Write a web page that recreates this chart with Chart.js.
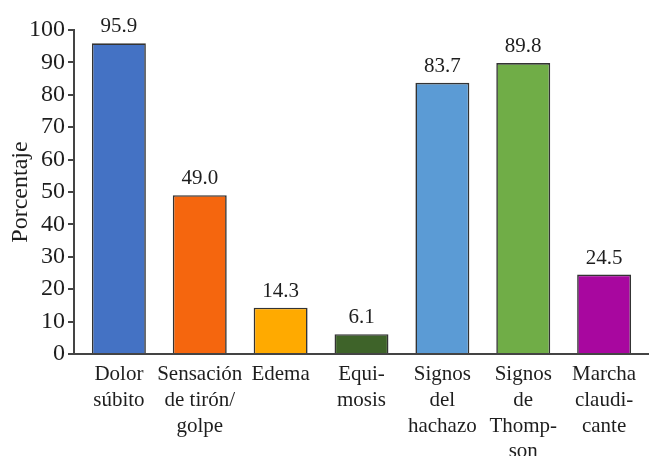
<!DOCTYPE html>
<html lang="es">
<head>
<meta charset="utf-8">
<title>Porcentaje por signo clínico</title>
<script src="https://cdn.jsdelivr.net/npm/chart.js@4.4.1/dist/chart.umd.min.js"></script>
<style>
  html, body { margin: 0; padding: 0; background: #ffffff; }
  #wrap { width: 649px; height: 456px; }
</style>
</head>
<body>
<div id="wrap"><canvas id="c" width="649" height="456"></canvas></div>
<script>
// Categorías (etiquetas de varias líneas en el eje X)
const categories = [
  ['Dolor', 'súbito'],
  ['Sensación', 'de tirón/', 'golpe'],
  ['Edema'],
  ['Equi-', 'mosis'],
  ['Signos', 'del', 'hachazo'],
  ['Signos', 'de', 'Thomp-', 'son'],
  ['Marcha', 'claudi-', 'cante']
];

// Porcentaje de pacientes con cada signo
const percentages = [95.9, 49.0, 14.3, 6.1, 83.7, 89.8, 24.5];

// Color de relleno de cada barra
const barColors = ['#4472C4', '#F5660E', '#FFAA00', '#3E6329', '#5B9BD5', '#70AD47', '#A8079F'];

// Marcas del eje Y
const yTicks = [0, 10, 20, 30, 40, 50, 60, 70, 80, 90, 100];

const SERIF = "'Liberation Serif', 'Times New Roman', serif";
const INK = '#1e1e1e';
const AXIS = '#444444';

// Escribe el valor encima de cada barra
const valueLabels = {
  id: 'valueLabels',
  afterDatasetsDraw(chart) {
    const ctx = chart.ctx;
    const meta = chart.getDatasetMeta(0);
    ctx.save();
    ctx.font = '21px ' + SERIF;
    ctx.fillStyle = INK;
    ctx.textAlign = 'center';
    ctx.textBaseline = 'alphabetic';
    meta.data.forEach((bar, i) => {
      ctx.fillText(percentages[i].toFixed(1), bar.x, bar.y - 11);
    });
    ctx.restore();
  }
};

new Chart(document.getElementById('c'), {
  type: 'bar',
  data: {
    labels: categories,
    datasets: [{
      data: percentages,
      backgroundColor: barColors,
      borderColor: '#333333',
      borderWidth: 1.6,
      barPercentage: 0.667,
      categoryPercentage: 1.0
    }]
  },
  options: {
    responsive: false,
    devicePixelRatio: 1,
    animation: false,
    layout: { padding: { top: 30, left: 0, right: 0, bottom: 0 } },
    plugins: {
      legend: { display: false },
      tooltip: { enabled: false }
    },
    scales: {
      x: {
        offset: false,
        // márgenes laterales entre el eje Y y la primera/última barra
        afterBuildTicks(scale) {
          scale._startValue = -0.555;
          scale._valueRange = 7.11;
        },
        afterFit(scale) { scale.height = 102; },
        grid: { display: false, drawTicks: false },
        border: { display: true, color: AXIS, width: 2 },
        ticks: {
          color: INK,
          padding: 8,
          maxRotation: 0,
          autoSkip: false,
          font: { family: SERIF, size: 21, lineHeight: 1.22 }
        }
      },
      y: {
        min: 0,
        max: 100,
        afterBuildTicks(scale) {
          scale.ticks = yTicks.map(v => ({ value: v }));
        },
        afterFit(scale) { scale.width = 74; },
        grid: {
          drawOnChartArea: false,
          drawTicks: true,
          tickLength: 6,
          color: AXIS,
          lineWidth: 2
        },
        border: { display: true, color: AXIS, width: 2 },
        ticks: {
          color: INK,
          padding: 3,
          font: { family: SERIF, size: 24 }
        },
        title: {
          display: true,
          text: 'Porcentaje',
          color: INK,
          padding: { top: 6, bottom: 0 },
          font: { family: SERIF, size: 24, lineHeight: 1.2 }
        }
      }
    }
  },
  plugins: [valueLabels]
});
</script>
</body>
</html>
